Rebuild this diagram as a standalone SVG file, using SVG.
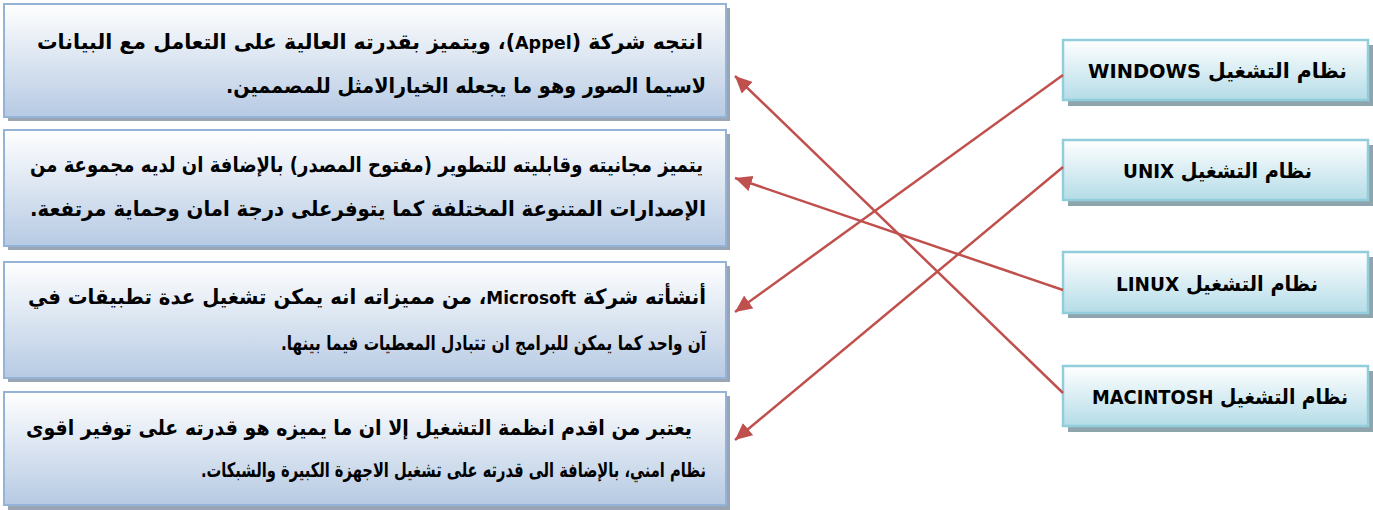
<svg xmlns="http://www.w3.org/2000/svg" width="1373" height="510" viewBox="0 0 1373 510">
<defs>
<linearGradient id="gL" x1="0" y1="0" x2="0" y2="1">
<stop offset="0" stop-color="#ffffff"/>
<stop offset="1" stop-color="#b6cae3"/>
</linearGradient>
<linearGradient id="gR" x1="0" y1="0" x2="0" y2="1">
<stop offset="0" stop-color="#ffffff"/>
<stop offset="1" stop-color="#b4dce7"/>
</linearGradient>
<marker id="ah" markerUnits="userSpaceOnUse" markerWidth="18" markerHeight="16" refX="17" refY="8" orient="auto">
<path d="M0,0 L17,8 L0,16 z" fill="#c0504d"/>
</marker>
</defs>
<style>
.shL{fill:#9aa5b3}
.bxL{fill:url(#gL);stroke:#95b3d7;stroke-width:2}
.shR{fill:#8fa5ae}
.bxR{fill:url(#gR);stroke:#92cddc;stroke-width:2.5}
.ar{font-family:"DejaVu Sans",sans-serif;font-weight:bold;font-size:21px;fill:#000;direction:rtl;unicode-bidi:embed}
.sm{font-size:20px}
.la{font-size:18px}
.os{font-family:"DejaVu Sans",sans-serif;font-weight:bold;font-size:21px;fill:#000;direction:rtl;unicode-bidi:embed}
.ol{font-size:20px}
.cn{stroke:#c0504d;stroke-width:2.5;fill:none;marker-end:url(#ah)}
</style>

<g id="desc1">
<rect class="shL" x="8" y="8" width="722" height="113"/>
<rect class="bxL" x="4" y="4" width="722" height="113"/>
<text class="ar" x="703" y="49" text-anchor="start" textLength="666" lengthAdjust="spacingAndGlyphs">انتجه شركة (<tspan class="la">Appel</tspan>)، ويتميز بقدرته العالية على التعامل مع البيانات</text>
<text class="ar" x="706" y="93" text-anchor="start" textLength="480" lengthAdjust="spacingAndGlyphs">لاسيما الصور وهو ما يجعله الخيارالامثل للمصممين.</text>
</g>

<g id="desc2">
<rect class="shL" x="8" y="134" width="722" height="116"/>
<rect class="bxL" x="4" y="130" width="722" height="116"/>
<text class="ar" x="703" y="172" text-anchor="start" textLength="673" lengthAdjust="spacingAndGlyphs">يتميز مجانيته وقابليته للتطوير (مفتوح المصدر) بالإضافة ان لديه مجموعة من</text>
<text class="ar" x="706" y="216" text-anchor="start" textLength="676" lengthAdjust="spacingAndGlyphs">الإصدارات المتنوعة المختلفة كما يتوفرعلى درجة امان وحماية مرتفعة.</text>
</g>

<g id="desc3">
<rect class="shL" x="8" y="266" width="722" height="116"/>
<rect class="bxL" x="4" y="262" width="722" height="116"/>
<text class="ar" x="706" y="304" text-anchor="start" textLength="678" lengthAdjust="spacingAndGlyphs">أنشأته شركة  <tspan class="la">Microsoft</tspan>، من مميزاته انه يمكن تشغيل عدة تطبيقات في</text>
<text class="ar sm" x="706" y="350" text-anchor="start" textLength="425" lengthAdjust="spacingAndGlyphs">آن واحد كما يمكن للبرامج ان تتبادل المعطيات فيما بينها.</text>
</g>

<g id="desc4">
<rect class="shL" x="8" y="396" width="722" height="114"/>
<rect class="bxL" x="4" y="392" width="722" height="113"/>
<text class="ar" x="692" y="435" text-anchor="start" textLength="666" lengthAdjust="spacingAndGlyphs">يعتبر  من اقدم انظمة التشغيل إلا ان ما يميزه هو قدرته على توفير اقوى</text>
<text class="ar sm" x="706" y="477" text-anchor="start" textLength="505" lengthAdjust="spacingAndGlyphs">نظام امني، بالإضافة الى قدرته على تشغيل الاجهزة الكبيرة والشبكات.</text>
</g>

<g id="os-windows">
<rect class="shR" x="1068" y="45" width="305" height="61"/>
<rect class="bxR" x="1063" y="40" width="305" height="60"/>
<text class="os" x="1347" y="78" text-anchor="start" textLength="259" lengthAdjust="spacingAndGlyphs">نظام التشغيل <tspan class="ol">WINDOWS</tspan></text>
</g>
<g id="os-unix">
<rect class="shR" x="1068" y="145" width="305" height="61"/>
<rect class="bxR" x="1063" y="140" width="305" height="60"/>
<text class="os" x="1312" y="178" text-anchor="start" textLength="189" lengthAdjust="spacingAndGlyphs">نظام التشغيل <tspan class="ol">UNIX</tspan></text>
</g>
<g id="os-linux">
<rect class="shR" x="1068" y="257" width="305" height="61"/>
<rect class="bxR" x="1063" y="252" width="305" height="61"/>
<text class="os" x="1318" y="291" text-anchor="start" textLength="202" lengthAdjust="spacingAndGlyphs">نظام التشغيل <tspan class="ol">LINUX</tspan></text>
</g>
<g id="os-macintosh">
<rect class="shR" x="1068" y="371" width="305" height="61"/>
<rect class="bxR" x="1063" y="366" width="305" height="60"/>
<text class="os" x="1348" y="404" text-anchor="start" textLength="256" lengthAdjust="spacingAndGlyphs">نظام التشغيل <tspan class="ol">MACINTOSH</tspan></text>
</g>

<g id="connectors">
<line class="cn" x1="1063" y1="393" x2="735" y2="76"/>
<line class="cn" x1="1063" y1="290" x2="735" y2="178"/>
<line class="cn" x1="1063" y1="75" x2="735" y2="312"/>
<line class="cn" x1="1063" y1="167" x2="735" y2="440"/>
</g>
</svg>
